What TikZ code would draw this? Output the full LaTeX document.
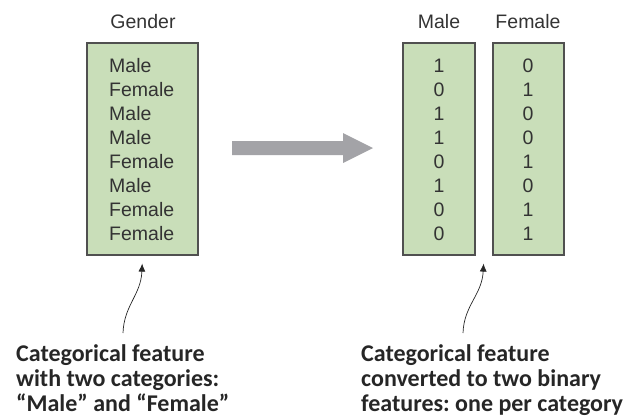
\documentclass[tikz,border=0pt]{standalone}
\usepackage{fontspec}
\setmainfont{Liberation Sans}
\newfontfamily\notefont{Carlito}
\usetikzlibrary{calc, arrows.meta}
\frenchspacing

\definecolor{cellgreen}{HTML}{C9DEB9}
\definecolor{cellline}{HTML}{505050}
\definecolor{bigarrow}{HTML}{A3A3A7}
\definecolor{celltext}{HTML}{333333}

\tikzset{
  col/.style={draw=cellline, line width=1.2pt, fill=cellgreen, inner sep=0pt},
  entry/.style={inner sep=0pt, text=celltext, font=\fontsize{19.5}{24}\selectfont},
  note/.style={inner sep=0pt, align=left, text=black!85, font=\notefont\bfseries\fontsize{24}{25}\selectfont},
  pointer/.style={line width=0.7pt, black!85, -{Latex[length=8pt,width=7pt]}}
}

\begin{document}
\begin{tikzpicture}[x=1pt, y=-1pt]
  \useasboundingbox (0,0) rectangle (634,418);

  % Draw the column boxes
  \node[col, minimum width=111pt, minimum height=212pt] (G) at (142.5,149) {};
  \node[col, minimum width=72pt, minimum height=212pt] (M) at (439,149) {};
  \node[col, minimum width=71pt, minimum height=212pt] (F) at (528.5,149) {};

  % Column headers
  \node[entry, anchor=base] (Gh) at (143,28.5) {Gender};
  \node[entry, anchor=base] (Mh) at (439,28.5) {Male};
  \node[entry, anchor=base] (Fh) at (528,28.5) {Female};

  % Fill in the rows
  \foreach \v [count=\i] in {Male,Female,Male,Male,Female,Male,Female,Female}
    \node[entry, anchor=base west] (g\i) at (109,48+24*\i) {\v};
  \foreach \v [count=\i] in {1,0,1,1,0,1,0,0}
    \node[entry, anchor=base] (m\i) at (439,48+24*\i) {\v};
  \foreach \v [count=\i] in {0,1,0,0,1,0,1,1}
    \node[entry, anchor=base] (f\i) at (528,48+24*\i) {\v};

  % Draw the big gray arrow
  \fill[bigarrow] (232,141) -- (343,141) -- (343,133) -- (373,148) -- (343,163)
    -- (343,155) -- (232,155) -- cycle;

  % Notes and their pointers
  \node[note, anchor=north west] (Ln) at (16,344) {Categorical feature\\with two categories:\\“Male” and “Female”};
  \node[note, anchor=north west] (Rn) at (361,344) {Categorical feature\\converted to two binary\\features: one per category};
  \coordinate (La) at (123,333);
  \coordinate (Ra) at (463,333);
  \coordinate (Rt) at ($(M.south east)!0.5!(F.south west)$);
  \draw[pointer, shorten >=8pt] (La) .. controls (124,305) and (141,295) .. (G.south);
  \draw[pointer, shorten >=8pt] (Ra) .. controls (464,305) and (482,295) .. (Rt);
\end{tikzpicture}
\end{document}
